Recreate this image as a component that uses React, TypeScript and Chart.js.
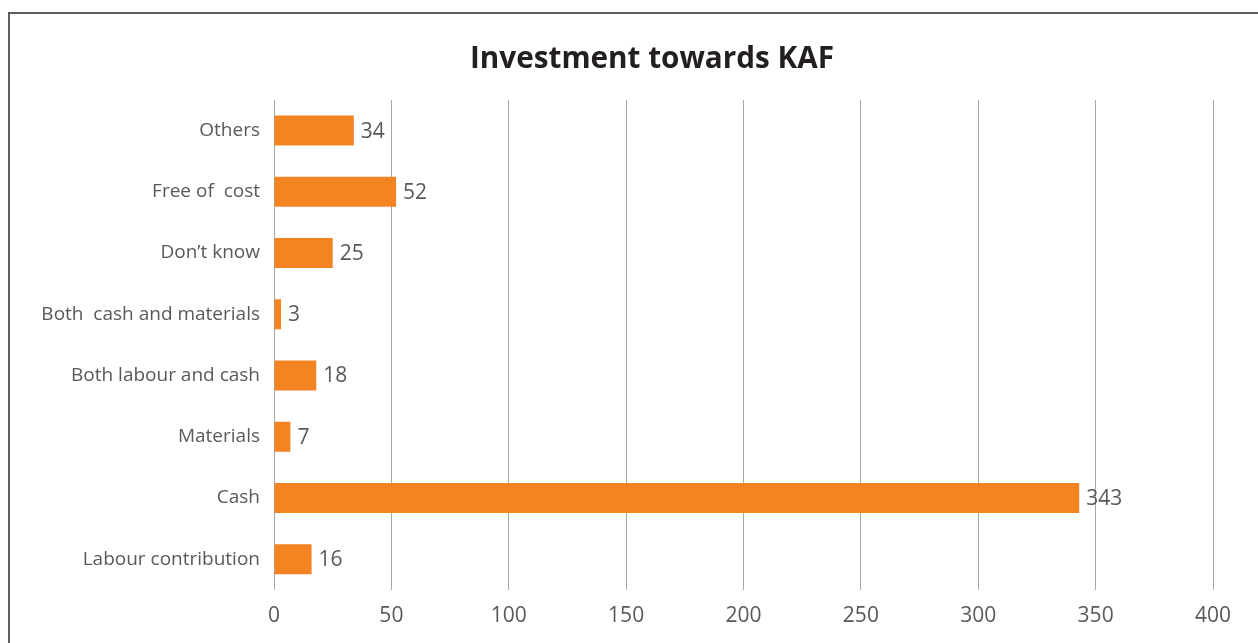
import React, { useEffect, useRef } from "react";
import { Chart, registerables } from "chart.js";

Chart.register(...registerables);

const categories = [
  "Others",
  "Free of  cost",
  "Don\u2019t know",
  "Both  cash and materials",
  "Both labour and cash",
  "Materials",
  "Cash",
  "Labour contribution",
];
const values = [34, 52, 25, 3, 18, 7, 343, 16];
const xTicks = [0, 50, 100, 150, 200, 250, 300, 350, 400];
const titleText = "Investment towards KAF";

const FONT = "'Open Sans', 'Noto Sans', sans-serif";
const TEXT = "#595959";

const valueLabels = {
  id: "valueLabels",
  afterDatasetsDraw(chart: any) {
    const ctx = chart.ctx;
    const meta = chart.getDatasetMeta(0);
    ctx.save();
    ctx.font = `21px ${FONT}`;
    ctx.fillStyle = TEXT;
    ctx.textAlign = "left";
    ctx.textBaseline = "middle";
    meta.data.forEach((el: any, i: number) => {
      ctx.fillText(String(values[i]), el.x + 7, el.y + 1);
    });
    ctx.restore();
  },
};

const chartTitle = {
  id: "chartTitle",
  afterDraw(chart: any) {
    const ctx = chart.ctx;
    ctx.save();
    ctx.font = `bold 29.7px ${FONT}`;
    ctx.fillStyle = "#231F20";
    ctx.textAlign = "center";
    ctx.textBaseline = "middle";
    ctx.fillText(titleText, 642, 46);
    ctx.restore();
  },
};

export default function App() {
  const ref = useRef<HTMLCanvasElement | null>(null);
  useEffect(() => {
    if (!ref.current) return;
    const chart = new Chart(ref.current, {
      type: "bar",
      data: {
        labels: categories,
        datasets: [
          {
            data: values,
            backgroundColor: "#F48322",
            borderWidth: 0,
            categoryPercentage: 1,
            barPercentage: 0.49,
          },
        ],
      },
      options: {
        indexAxis: "y",
        animation: false,
        responsive: false,
        maintainAspectRatio: false,
        layout: { padding: { left: 10, right: 45, top: 86, bottom: 0 } },
        plugins: {
          legend: { display: false },
          tooltip: { enabled: false },
          title: { display: false },
        },
        scales: {
          x: {
            min: 0,
            max: 400,
            afterBuildTicks(scale: any) {
              scale.ticks = xTicks.map((v) => ({ value: v }));
            },
            grid: { color: "#A6A6A6", lineWidth: 1, drawTicks: false },
            border: { display: false },
            ticks: {
              color: TEXT,
              font: { family: FONT, size: 21 },
              padding: 14,
              maxRotation: 0,
            },
          },
          y: {
            afterFit(scale: any) {
              scale.width = 254;
            },
            grid: { display: false, drawTicks: false },
            border: { display: true, color: "#A6A6A6", width: 1 },
            ticks: {
              color: TEXT,
              font: { family: FONT, size: 19 },
              padding: 14,
            },
          },
        },
      },
      plugins: [valueLabels, chartTitle],
    });
    return () => chart.destroy();
  }, []);

  return (
    <div
      style={{
        position: "fixed",
        left: 8,
        top: 12,
        width: 1250,
        height: 631,
        borderTop: "2px solid #5E5E5E",
        borderLeft: "2px solid #5E5E5E",
        background: "#fff",
        overflow: "hidden",
      }}
    >
      <canvas ref={ref} width={1248} height={629} style={{ display: "block" }} />
    </div>
  );
}
